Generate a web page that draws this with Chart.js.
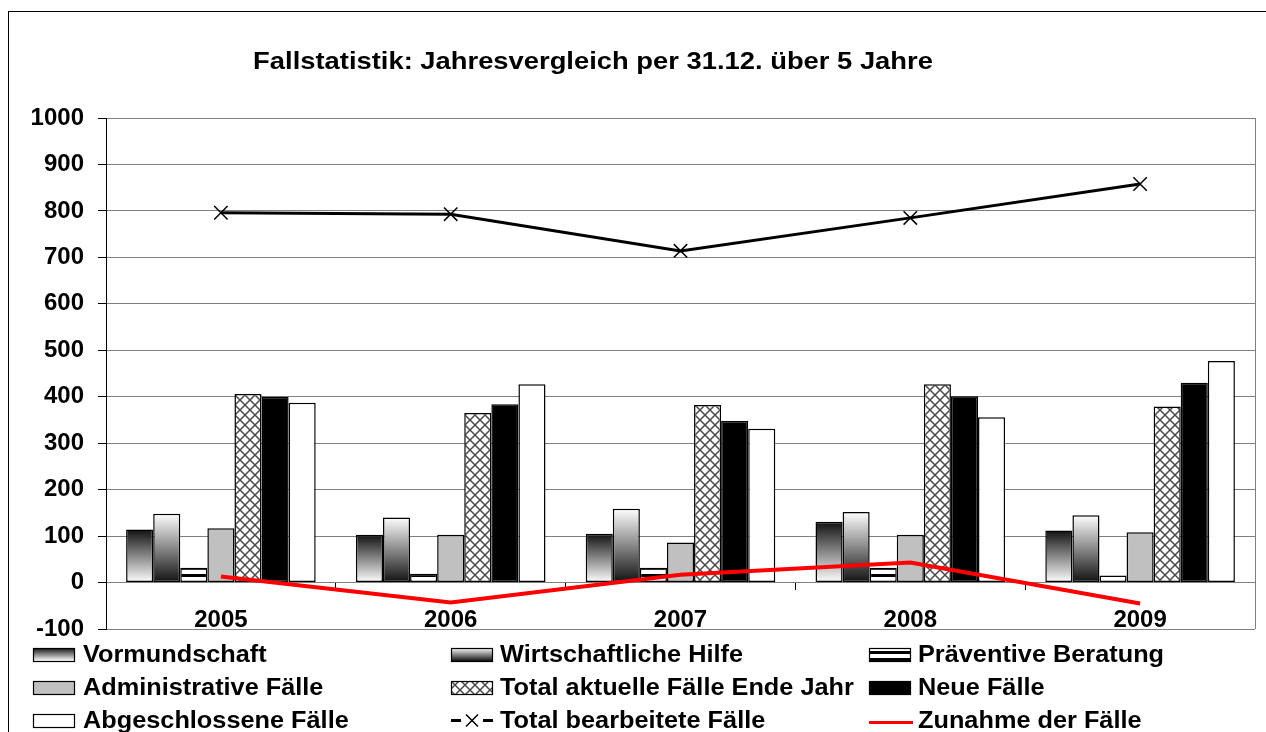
<!DOCTYPE html>
<html>
<head>
<meta charset="utf-8">
<script src="https://cdn.jsdelivr.net/npm/chart.js@4.4.0/dist/chart.umd.min.js"></script>
<style>
  html, body { margin: 0; padding: 0; background: #fff; }
  canvas { display: block; }
</style>
</head>
<body>
<canvas id="myChart" width="1266" height="732"></canvas>
<script>
// Data
const years = ["2005", "2006", "2007", "2008", "2009"];
const vormundschaft = [114, 103, 105, 131, 112];
const wirtschaftlicheHilfe = [148, 140, 159, 152, 145];
const praeventiveBeratung = [32, 19, 32, 32, 15];
const administrativeFaelle = [117, 103, 86, 103, 108];
const totalAktuelle = [406, 365, 382, 427, 379];
const neueFaelle = [400, 384, 348, 401, 430];
const abgeschlossene = [387, 427, 331, 356, 477];
const totalBearbeitete = [796, 793, 714, 785, 858];
const zunahme = [13, -43, 17, 43, -45];
const yMin = -100;
const yMax = 1000;
const yStep = 100;

const FONT = "'Liberation Sans', Arial, sans-serif";

function makeStripes() {
  const c = document.createElement("canvas");
  c.width = 4;
  c.height = 7;
  const g = c.getContext("2d");
  g.fillStyle = "#fff";
  g.fillRect(0, 0, 4, 7);
  g.fillStyle = "#000";
  g.fillRect(0, 0, 4, 3);
  return g.createPattern(c, "repeat");
}

function makeHatch() {
  const n = 10;
  const c = document.createElement("canvas");
  c.width = n;
  c.height = n;
  const g = c.getContext("2d");
  g.fillStyle = "#fff";
  g.fillRect(0, 0, n, n);
  g.strokeStyle = "#4a4a4a";
  g.lineWidth = 1.5;
  g.beginPath();
  g.moveTo(0, 0); g.lineTo(n, n);
  g.moveTo(n, 0); g.lineTo(0, n);
  g.stroke();
  return g.createPattern(c, "repeat");
}

const stripes = makeStripes();
const hatch = makeHatch();

// vertical gradient per bar, darkTop: dark at the top going to white
function gradientFill(darkTop) {
  return (ctx) => {
    const chart = ctx.chart;
    const y = chart.scales && chart.scales.y;
    if (!y || !ctx.parsed) return "#888";
    const top = y.getPixelForValue(ctx.parsed.y);
    const base = y.getPixelForValue(0);
    if (!Number.isFinite(top) || !Number.isFinite(base) || top === base) return "#888";
    const g = chart.ctx.createLinearGradient(0, top, 0, base);
    g.addColorStop(0, darkTop ? "#111111" : "#ffffff");
    g.addColorStop(1, darkTop ? "#ffffff" : "#111111");
    return g;
  };
}

function bar(label, data, fill, swatch) {
  return {
    type: "bar",
    label: label,
    data: data,
    backgroundColor: fill,
    borderColor: "#000",
    borderWidth: 1.5,
    borderSkipped: false,
    order: 1,
    swatch: swatch,
  };
}

const datasets = [
  bar("Vormundschaft", vormundschaft, gradientFill(true), "gradDark"),
  bar("Wirtschaftliche Hilfe", wirtschaftlicheHilfe, gradientFill(false), "gradLight"),
  bar("Präventive Beratung", praeventiveBeratung, stripes, stripes),
  bar("Administrative Fälle", administrativeFaelle, "#c0c0c0", "#c0c0c0"),
  bar("Total aktuelle Fälle Ende Jahr", totalAktuelle, hatch, hatch),
  bar("Neue Fälle", neueFaelle, "#000", "#000"),
  bar("Abgeschlossene Fälle", abgeschlossene, "#fff", "#fff"),
  {
    type: "line",
    label: "Total bearbeitete Fälle",
    data: totalBearbeitete,
    borderColor: "#000",
    borderWidth: 3,
    pointStyle: "crossRot",
    pointRadius: 9.5,
    pointBorderWidth: 1.5,
    pointBorderColor: "#000",
    pointBackgroundColor: "#000",
    tension: 0,
    order: 0,
    swatch: "cross",
  },
  {
    type: "line",
    label: "Zunahme der Fälle",
    data: zunahme,
    borderColor: "#ff0000",
    borderWidth: 4,
    pointRadius: 0,
    tension: 0,
    order: 0,
    swatch: "red",
  },
];

function stretchText(c, text, x, y, sx, align) {
  c.save();
  c.translate(x, y);
  c.scale(sx, 1);
  c.textAlign = align || "left";
  c.fillText(text, 0, 0);
  c.restore();
}

const decor = {
  id: "decor",
  beforeDatasetsDraw(chart) {
    const c = chart.ctx;
    const a = chart.chartArea;
    c.save();
    c.strokeStyle = "#808080";
    c.lineWidth = 1;
    c.beginPath();
    c.moveTo(Math.round(a.right) + 0.5, a.top);
    c.lineTo(Math.round(a.right) + 0.5, a.bottom);
    c.stroke();
    c.restore();
  },
  afterDraw(chart) {
    const c = chart.ctx;
    c.save();
    // outer frame
    c.strokeStyle = "#000";
    c.lineWidth = 1;
    c.strokeRect(8.5, 11.5, 1300, 800);

    // title
    c.fillStyle = "#000";
    c.textBaseline = "alphabetic";
    c.font = "bold 24px " + FONT;
    stretchText(c, "Fallstatistik: Jahresvergleich per 31.12. über 5 Jahre", 593, 69, 1.14, "center");

    // legend, three columns
    const boxX = [33, 451, 869];
    const textX = [83, 500, 918];
    const rowY = [662, 695, 728];
    c.font = "bold 23px " + FONT;
    chart.data.datasets.forEach((ds, i) => {
      const col = i % 3;
      const row = Math.floor(i / 3);
      const x = boxX[col];
      const base = rowY[row];
      const top = base - 14;
      const w = 41;
      const h = 13;
      const mid = top + h / 2;
      if (ds.swatch === "cross") {
        c.strokeStyle = "#000";
        c.lineWidth = 3;
        c.beginPath();
        c.moveTo(x, mid); c.lineTo(x + 10, mid);
        c.moveTo(x + 32, mid); c.lineTo(x + 42, mid);
        c.stroke();
        c.lineWidth = 1.5;
        c.beginPath();
        c.moveTo(x + 15, mid - 6); c.lineTo(x + 27, mid + 6);
        c.moveTo(x + 27, mid - 6); c.lineTo(x + 15, mid + 6);
        c.stroke();
      } else if (ds.swatch === "red") {
        c.strokeStyle = "#ff0000";
        c.lineWidth = 3;
        c.beginPath();
        c.moveTo(x, mid + 2); c.lineTo(x + 44, mid + 2);
        c.stroke();
      } else {
        let fill = ds.swatch;
        if (fill === "gradDark" || fill === "gradLight") {
          const g = c.createLinearGradient(0, top, 0, top + h);
          g.addColorStop(0, fill === "gradDark" ? "#111111" : "#ffffff");
          g.addColorStop(1, fill === "gradDark" ? "#ffffff" : "#111111");
          fill = g;
        }
        c.fillStyle = fill;
        c.fillRect(x, top, w, h);
        c.strokeStyle = "#000";
        c.lineWidth = 1.2;
        c.strokeRect(x + 0.5, top + 0.5, w, h);
      }
      c.fillStyle = "#000";
      stretchText(c, ds.label, textX[col], base, 1.1, "left");
    });
    c.restore();
  },
};

const config = {
  data: {
    labels: years,
    datasets: datasets,
  },
  options: {
    responsive: false,
    animation: false,
    layout: { padding: { left: 0, top: 118, right: 9, bottom: 103 } },
    datasets: {
      bar: { categoryPercentage: 0.825, barPercentage: 1 },
    },
    plugins: {
      legend: { display: false },
      title: { display: false },
      tooltip: { enabled: false },
    },
    scales: {
      x: {
        position: { y: 0 },
        offset: true,
        grid: {
          offset: true,
          drawOnChartArea: false,
          drawTicks: true,
          tickLength: 7,
          tickColor: "#000",
        },
        border: { color: "#808080", width: 1 },
        ticks: {
          color: "#000",
          padding: 16,
          maxRotation: 0,
          font: { family: FONT, size: 24, weight: "bold" },
        },
      },
      y: {
        min: yMin,
        max: yMax,
        ticks: {
          stepSize: yStep,
          color: "#000",
          padding: 14,
          font: { family: FONT, size: 24, weight: "bold" },
          callback: (v) => String(v),
        },
        grid: { color: "#808080", tickLength: 8, tickColor: "#000" },
        border: { color: "#000", width: 1 },
        afterFit(scale) {
          scale.width = 106;
        },
      },
    },
  },
  plugins: [decor],
};

const myChart = new Chart(document.getElementById("myChart"), config);
</script>
</body>
</html>
